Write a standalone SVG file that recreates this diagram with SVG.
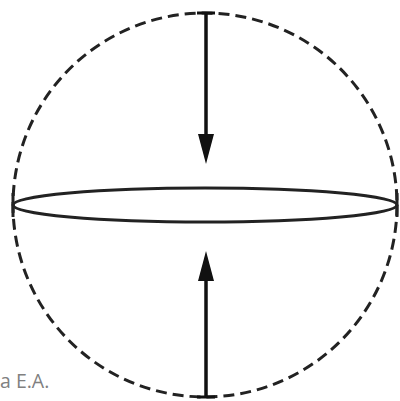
<svg xmlns="http://www.w3.org/2000/svg" width="400" height="401" viewBox="0 0 400 401">
<style>
.outline{fill:none;stroke:#222;stroke-width:3;stroke-dasharray:11 6}
.disc{fill:none;stroke:#222;stroke-width:3}
.arrow{stroke:#111;stroke-width:3.5;fill:none}
.head{fill:#111}
.cap{font-family:"Open Sans","DejaVu Sans",sans-serif;font-size:19.5px;fill:#808080}
</style>
<rect width="400" height="401" fill="#fff"/>
<g id="sphere"><circle class="outline" cx="205" cy="205" r="192"/></g>
<g id="disc"><ellipse class="disc" cx="205" cy="205" rx="192" ry="17"/>
<line x1="13" y1="193" x2="13" y2="217" stroke="#222" stroke-width="3"/>
<line x1="397" y1="193" x2="397" y2="217" stroke="#222" stroke-width="3"/></g>
<g id="connectors">
<line class="arrow" x1="206" y1="13" x2="206" y2="140"/>
<polygon class="head" points="198,134 214,134 206,164"/>
<line class="arrow" x1="206" y1="397" x2="206" y2="275"/>
<polygon class="head" points="198,281 214,281 206,251"/>
<line x1="197" y1="13" x2="215" y2="13" stroke="#111" stroke-width="3"/>
<line x1="197" y1="397" x2="215" y2="397" stroke="#111" stroke-width="3"/>
</g>
<text class="cap" x="0" y="388">a E.A.</text>
</svg>
